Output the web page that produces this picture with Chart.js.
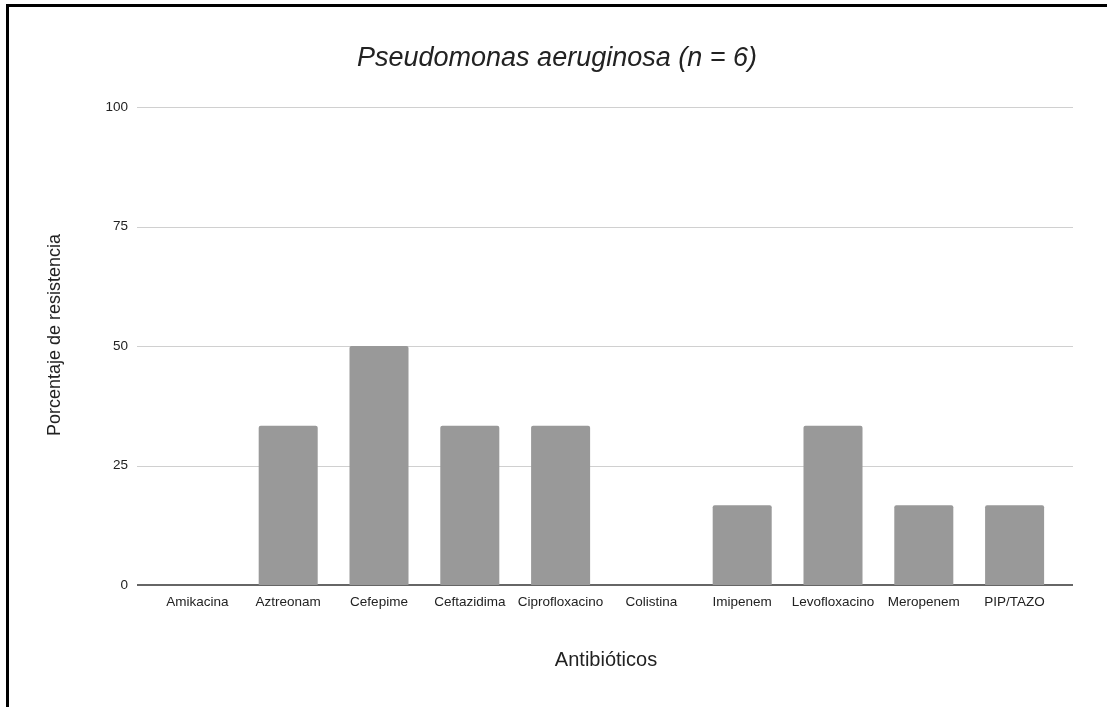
<!DOCTYPE html>
<html>
<head>
<meta charset="utf-8">
<script src="https://cdn.jsdelivr.net/npm/chart.js@4/dist/chart.umd.min.js"></script>
<style>
  html, body { margin: 0; padding: 0; background: #fff; }
  #wrap { position: relative; width: 1107px; height: 707px; overflow: hidden; }
  #frame {
    position: absolute; left: 6px; top: 4px; right: 0; bottom: 0;
    border-left: 3px solid #000; border-top: 3px solid #000;
    pointer-events: none;
  }
  canvas { position: absolute; left: 0; top: 0; }
</style>
</head>
<body>
<div id="wrap">
  <canvas id="c" width="1107" height="707"></canvas>
  <div id="frame"></div>
</div>
<script>
const chartTitle = 'Pseudomonas aeruginosa (n = 6)';
const xAxisTitle = 'Antibióticos';
const yAxisTitle = 'Porcentaje de resistencia';

const antibiotics = ['Amikacina', 'Aztreonam', 'Cefepime', 'Ceftazidima', 'Ciprofloxacino',
                     'Colistina', 'Imipenem', 'Levofloxacino', 'Meropenem', 'PIP/TAZO'];
// resistant isolates out of 6, expressed as percentages
const resistancePct = [0, 33.3, 50, 33.3, 33.3, 0, 16.7, 33.3, 16.7, 16.7];
const yTicks = [0, 25, 50, 75, 100];

const FONT = '"Liberation Sans", Arial, Helvetica, sans-serif';
const TEXT = '#222222';

// Gridlines run a little past the bar band on both sides; baseline is darker.
const gridPlugin = {
  id: 'wideGrid',
  beforeDatasetsDraw(chart) {
    const { ctx, chartArea, scales } = chart;
    const y = scales.y;
    const x0 = chartArea.left - 15, x1 = chartArea.right + 13;
    ctx.save();
    yTicks.forEach(v => {
      const py = Math.round(y.getPixelForValue(v));
      if (v === 0) return;
      ctx.strokeStyle = '#d0d0d0';
      ctx.lineWidth = 1;
      ctx.beginPath();
      ctx.moveTo(x0, py + 0.5);
      ctx.lineTo(x1, py + 0.5);
      ctx.stroke();
    });
    const py0 = Math.round(y.getPixelForValue(0));
    ctx.strokeStyle = '#666666';
    ctx.lineWidth = 2;
    ctx.beginPath();
    ctx.moveTo(x0, py0);
    ctx.lineTo(x1, py0);
    ctx.stroke();
    ctx.restore();
  }
};

// Chart title and vertical axis title.
const labelsPlugin = {
  id: 'titles',
  afterDraw(chart) {
    const { ctx } = chart;
    ctx.save();
    ctx.fillStyle = TEXT;
    ctx.textAlign = 'center';
    ctx.textBaseline = 'middle';
    ctx.font = 'italic 27px ' + FONT;
    ctx.fillText(chartTitle, 557, 58);
    ctx.translate(55, 335);
    ctx.rotate(-Math.PI / 2);
    ctx.font = '18px ' + FONT;
    ctx.fillText(yAxisTitle, 0, 0);
    ctx.restore();
  }
};

new Chart(document.getElementById('c'), {
  type: 'bar',
  data: {
    labels: antibiotics,
    datasets: [{
      data: resistancePct,
      backgroundColor: '#999999',
      borderWidth: 0,
      borderRadius: 2,
      borderSkipped: 'bottom',
      categoryPercentage: 1,
      barPercentage: 0.65
    }]
  },
  options: {
    responsive: false,
    animation: false,
    devicePixelRatio: 1,
    layout: { padding: { left: 0, right: 47, top: 107, bottom: 0 } },
    plugins: {
      legend: { display: false },
      title: { display: false },
      tooltip: { enabled: false }
    },
    scales: {
      x: {
        grid: { display: false, drawTicks: false },
        border: { display: false },
        ticks: { color: TEXT, font: { family: FONT, size: 13.5 }, padding: 9, maxRotation: 0, autoSkip: false },
        title: { display: true, text: xAxisTitle, color: TEXT, font: { family: FONT, size: 20 }, padding: { top: 0, bottom: 35 } },
        afterFit(scale) { scale.height = 122; }
      },
      y: {
        min: 0, max: 100,
        afterBuildTicks(scale) { scale.ticks = yTicks.map(v => ({ value: v })); },
        grid: { display: false, drawTicks: false },
        border: { display: false },
        ticks: { color: TEXT, font: { family: FONT, size: 13.5 }, padding: 24 },
        afterFit(scale) { scale.width = 152; }
      }
    }
  },
  plugins: [gridPlugin, labelsPlugin]
});
</script>
</body>
</html>
